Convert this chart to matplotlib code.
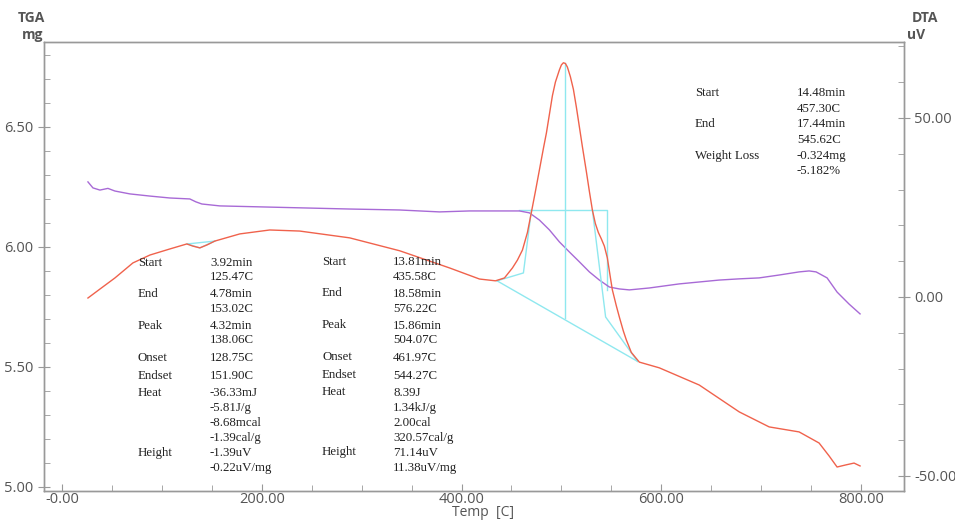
import numpy as np
import matplotlib.pyplot as plt
from matplotlib.ticker import MultipleLocator, FixedLocator

# TGA curve (mg)
tga_temp = [26, 31, 38, 46, 53, 68, 88, 108, 128, 134, 140, 158, 198, 238, 288, 338, 378,
            408, 440, 458, 468, 478, 488, 498, 508, 518, 528, 538, 548, 558, 568, 588,
            618, 638, 658, 678, 698, 718, 738, 748, 755, 766, 776, 788, 799]
tga_mg = [6.271, 6.246, 6.237, 6.244, 6.233, 6.221, 6.212, 6.204, 6.200, 6.188, 6.179,
          6.171, 6.167, 6.163, 6.158, 6.154, 6.146, 6.150, 6.150, 6.150, 6.142, 6.112,
          6.071, 6.021, 5.979, 5.938, 5.896, 5.862, 5.833, 5.825, 5.821, 5.829, 5.846,
          5.854, 5.862, 5.867, 5.871, 5.883, 5.896, 5.900, 5.896, 5.871, 5.812, 5.762, 5.721]

# DTA curve (uV)
dta_temp = [26, 38, 53, 71, 88, 108, 125, 131, 138, 145, 153, 178, 208, 238, 288, 338, 388,
            418, 434, 443, 451, 456, 461, 466, 470, 474, 478, 482, 485, 488, 491, 494, 498,
            500, 502, 504, 506, 509, 512, 515, 518, 521, 525, 528, 531, 534, 537, 540, 543,
            546, 549, 551, 555, 558, 562, 565, 570, 578, 598, 638, 678, 708, 738, 758, 768,
            776, 785, 793, 799]
dta_uv = [-0.3, 2.2, 5.3, 9.5, 11.7, 13.4, 14.8, 14.2, 13.7, 14.5, 15.6, 17.6, 18.7, 18.4,
          16.5, 12.9, 8.1, 5.0, 4.5, 5.3, 8.1, 10.3, 13.1, 18.0, 23.7, 29.5, 35.5, 41.5,
          45.8, 51.0, 56.2, 60.0, 63.4, 64.8, 65.4, 65.2, 64.2, 61.5, 58.0, 53.0, 47.5, 42.0,
          35.0, 29.5, 24.3, 20.5, 18.0, 16.2, 14.2, 10.9, 5.5, 2.0, -2.5, -5.6, -9.5, -12.0,
          -15.5, -18.2, -19.8, -24.6, -32.1, -36.3, -37.7, -40.8, -44.4, -47.5, -46.9,
          -46.4, -47.2]

# analysis marks
small_base_t = [125.47, 138.06, 153.02]
small_base_uv = [14.8, 13.7, 15.6]
big_start = (435.58, 4.5)
big_end = (576.22, -18.0)
peak_t, peak_top, peak_base = 504.07, 65.4, -6.0
onset_pts = ([435.58, 461.97, 470.0], [4.5, 6.7, 24.3])
endset_pts = ([576.22, 544.27, 531.0], [-18.0, -5.6, 24.3])
wl_t = [457.30, 545.62, 545.62]
wl_mg = [6.154, 6.154, 5.82]

red = '#f0624c'
purple = '#a86ad6'
cyan = '#8fe8ef'
grey = '#555555'
serif = 'Liberation Serif'
sans = 'Open Sans'

fig = plt.figure(figsize=(9.55, 5.21), dpi=100)
ax1 = fig.add_axes([44/955, 30/521, 860/955, 449/521])
ax2 = ax1.twinx()

ax1.plot(tga_temp, tga_mg, color=purple, lw=1.0, zorder=3)
ax1.plot(wl_t, wl_mg, color=cyan, lw=1.0, zorder=2)

ax2.plot(small_base_t, small_base_uv, color=cyan, lw=1.0)
ax2.plot([small_base_t[0], small_base_t[2]], [small_base_uv[0], small_base_uv[2]], color=cyan, lw=1.0)
ax2.plot([big_start[0], big_end[0]], [big_start[1], big_end[1]], color=cyan, lw=1.0)
ax2.plot([peak_t, peak_t], [peak_base, peak_top], color=cyan, lw=1.0)
ax2.plot(onset_pts[0], onset_pts[1], color=cyan, lw=1.0)
ax2.plot(endset_pts[0], endset_pts[1], color=cyan, lw=1.0)
ax2.plot(dta_temp, dta_uv, color=red, lw=1.0, zorder=4)

ax1.set_xlim(-18, 843)
ax1.set_ylim(4.983, 6.854)
ax2.set_ylim(-54.2, 71.2)

ax1.xaxis.set_major_locator(FixedLocator([0, 200, 400, 600, 800]))
ax1.set_xticklabels(['-0.00', '200.00', '400.00', '600.00', '800.00'])
ax1.xaxis.set_minor_locator(MultipleLocator(50))
ax1.yaxis.set_major_locator(FixedLocator([5.0, 5.5, 6.0, 6.5]))
ax1.set_yticklabels(['5.00', '5.50', '6.00', '6.50'])
ax1.yaxis.set_minor_locator(MultipleLocator(0.1))
ax2.yaxis.set_major_locator(FixedLocator([-50, 0, 50]))
ax2.set_yticklabels(['-50.00', '0.00', '50.00'])
ax2.yaxis.set_minor_locator(MultipleLocator(10))

for ax in (ax1, ax2):
    for s in ax.spines.values():
        s.set_color('#999999')
        s.set_linewidth(1.0)
    ax.tick_params(which='major', direction='inout', length=8, color='#999999',
                   labelcolor=grey, labelsize=10.5)
    ax.tick_params(which='minor', direction='in', length=4, color='#999999')
ax1.tick_params(axis='x', which='major', direction='in', length=5, pad=1)
for lab in ax1.get_xticklabels() + ax1.get_yticklabels() + ax2.get_yticklabels():
    lab.set_family(sans)

fig.text(483/955, 1 - 513/521, 'Temp  [C]', ha='center', va='center', color=grey,
         fontsize=10, family=sans)
fig.text(31/955, 1 - 18/521, 'TGA', ha='center', va='center', color=grey, fontsize=10,
         family=sans, weight='bold')
fig.text(33/955, 1 - 35/521, 'mg', ha='center', va='center', color=grey, fontsize=10,
         family=sans, weight='bold')
fig.text(912/955, 1 - 18/521, 'DTA', ha='left', va='center', color=grey, fontsize=10,
         family=sans, weight='bold')
fig.text(907/955, 1 - 35/521, 'uV', ha='left', va='center', color=grey, fontsize=10,
         family=sans, weight='bold')


def put(x, y, s):
    fig.text(x/955, 1 - y/521, s, ha='left', va='center', fontsize=9.3, family=serif,
             color='#222222')


left_labels = [('Start', 263), ('End', 294), ('Peak', 326), ('Onset', 358),
               ('Endset', 376), ('Heat', 393), ('Height', 453)]
left_vals = [('3.92min', 263), ('125.47C', 277), ('4.78min', 294), ('153.02C', 309),
             ('4.32min', 326), ('138.06C', 340), ('128.75C', 358), ('151.90C', 376),
             ('-36.33mJ', 393), ('-5.81J/g', 408), ('-8.68mcal', 423), ('-1.39cal/g', 438),
             ('-1.39uV', 453), ('-0.22uV/mg', 468)]
right_vals = [('13.81min', 262), ('435.58C', 277), ('18.58min', 294), ('576.22C', 309),
              ('15.86min', 326), ('504.07C', 340), ('461.97C', 358), ('544.27C', 376),
              ('8.39J', 393), ('1.34kJ/g', 408), ('2.00cal', 423), ('320.57cal/g', 438),
              ('71.14uV', 453), ('11.38uV/mg', 468)]
for s, y in left_labels:
    put(138, y, s)
    put(322, y - 1, s)
for s, y in left_vals:
    put(210, y, s)
for s, y in right_vals:
    put(393, y, s)

tr_labels = [('Start', 93), ('End', 124), ('Weight Loss', 156)]
tr_vals = [('14.48min', 93), ('457.30C', 109), ('17.44min', 124), ('545.62C', 140),
           ('-0.324mg', 156), ('-5.182%', 171)]
for s, y in tr_labels:
    put(695, y, s)
for s, y in tr_vals:
    put(797, y, s)

fig.savefig('out.png', dpi=100)
